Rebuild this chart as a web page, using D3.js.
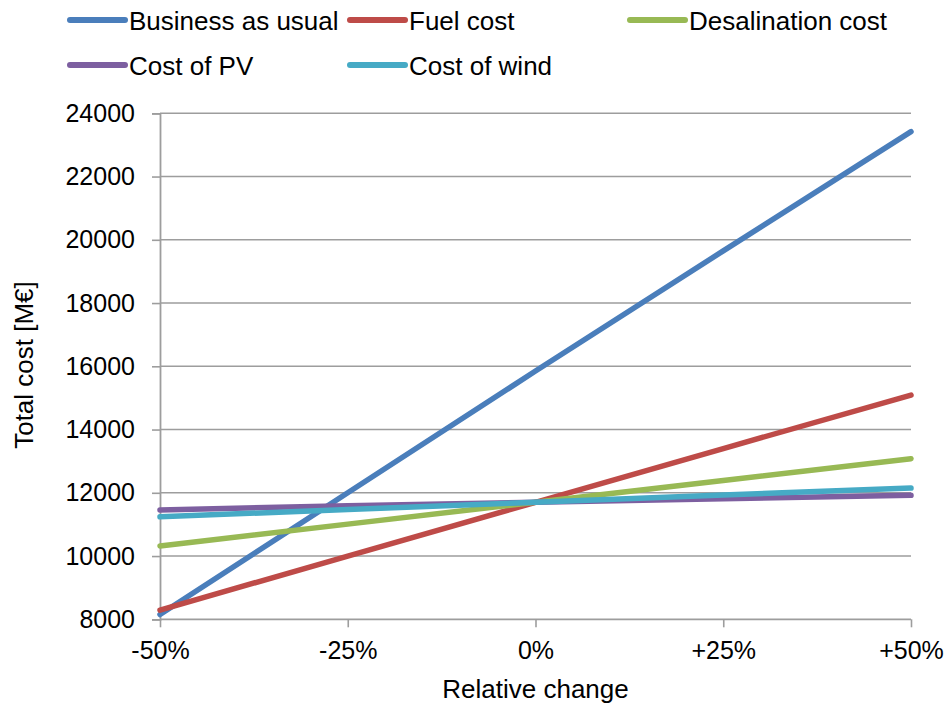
<!DOCTYPE html>
<html>
<head>
<meta charset="utf-8">
<script src="https://cdn.jsdelivr.net/npm/d3@7"></script>
<style>
  html, body { margin: 0; padding: 0; background: #fff; }
  svg { display: block; font-family: "Liberation Sans", Arial, Helvetica, sans-serif; }
</style>
</head>
<body>
<svg id="chart" width="947" height="707"></svg>
<script>
// Sensitivity of total cost to a relative change in each parameter
const categories = ["-50%", "-25%", "0%", "+25%", "+50%"];
const seriesNames = ["Business as usual", "Fuel cost", "Desalination cost", "Cost of PV", "Cost of wind"];
const businessAsUsual = [8150, 12000, 15850, 19650, 23420];
const fuelCost        = [8290, 10000, 11700, 13400, 15090];
const desalinationCost = [10320, 11010, 11700, 12390, 13080];
const costOfPV        = [11460, 11590, 11700, 11810, 11920];
const costOfWind      = [11240, 11470, 11700, 11930, 12150];
const yTicks = [8000, 10000, 12000, 14000, 16000, 18000, 20000, 22000, 24000];
const colors = ["#4a7ebb", "#be4b48", "#98b954", "#7d5fa0", "#46aac5"];

const seriesValues = [businessAsUsual, fuelCost, desalinationCost, costOfPV, costOfWind];
const series = seriesNames.map((name, i) => ({ name, values: seriesValues[i], color: colors[i] }));

const svg = d3.select("#chart");
const plotLeft = 160, plotRight = 911, plotTop = 113.3, plotBottom = 619.3;

const x = d3.scalePoint().domain(categories).range([plotLeft, plotRight]);
const y = d3.scaleLinear().domain([8000, 24000]).range([plotBottom, plotTop]);

// Horizontal gridlines
svg.append("g")
  .selectAll("line")
  .data(yTicks.slice(1))
  .join("line")
  .attr("x1", plotLeft).attr("x2", plotRight)
  .attr("y1", d => y(d)).attr("y2", d => y(d))
  .attr("stroke", "#9d9d9d").attr("stroke-width", 1.6);

// Y axis
const yAxis = svg.append("g")
  .attr("transform", `translate(${plotLeft},0)`)
  .call(d3.axisLeft(y).tickValues(yTicks).tickFormat(d3.format("d")).tickSize(8).tickPadding(17));
yAxis.select(".domain").attr("stroke", "#9d9d9d").attr("stroke-width", 1.8);
yAxis.selectAll(".tick line").attr("stroke", "#9d9d9d").attr("stroke-width", 1.6);
yAxis.selectAll(".tick text")
  .attr("font-size", 25).attr("fill", "#000")
  .attr("font-family", "Liberation Sans, Arial, sans-serif");

// X axis
const xAxis = svg.append("g")
  .attr("transform", `translate(0,${plotBottom})`)
  .call(d3.axisBottom(x).tickSize(8).tickPadding(14));
xAxis.select(".domain").attr("stroke", "#9d9d9d").attr("stroke-width", 1.8)
  .attr("d", `M${plotLeft},0H${plotRight}`);
xAxis.selectAll(".tick line").attr("stroke", "#9d9d9d").attr("stroke-width", 1.6);
xAxis.selectAll(".tick text")
  .attr("font-size", 25).attr("fill", "#000")
  .attr("font-family", "Liberation Sans, Arial, sans-serif");

// Axis titles
svg.append("text")
  .attr("x", (plotLeft + plotRight) / 2).attr("y", 698)
  .attr("text-anchor", "middle").attr("font-size", 26)
  .text("Relative change");
svg.append("text")
  .attr("transform", "translate(33,365) rotate(-90)")
  .attr("text-anchor", "middle").attr("font-size", 26)
  .text("Total cost [M€]");

// Series lines
const line = d3.line().x((d, i) => x(categories[i])).y(d => y(d));
svg.append("g")
  .selectAll("path")
  .data(series)
  .join("path")
  .attr("d", d => line(d.values))
  .attr("fill", "none")
  .attr("stroke", d => d.color)
  .attr("stroke-width", 5.5)
  .attr("stroke-linecap", "round")
  .attr("stroke-linejoin", "round");

// Legend
const legendPos = [[70, 20], [350, 20], [630, 20], [70, 65], [350, 65]];
const legend = svg.append("g")
  .selectAll("g")
  .data(series)
  .join("g")
  .attr("transform", (d, i) => `translate(${legendPos[i][0]},${legendPos[i][1]})`);
legend.append("line")
  .attr("x1", 0).attr("x2", 55).attr("y1", 0).attr("y2", 0)
  .attr("stroke", d => d.color).attr("stroke-width", 6).attr("stroke-linecap", "round");
legend.append("text")
  .attr("x", 59).attr("y", 9.5)
  .attr("font-size", 26)
  .text(d => d.name);
</script>
</body>
</html>
